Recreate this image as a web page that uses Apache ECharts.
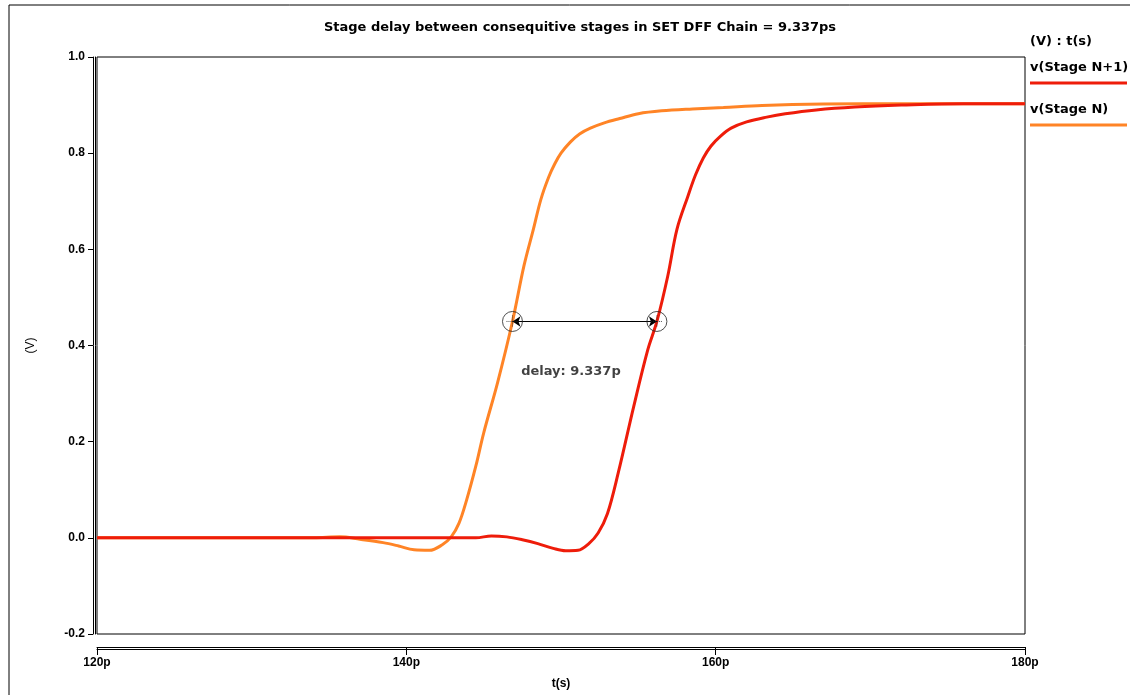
<!DOCTYPE html>
<html>
<head>
<meta charset="utf-8">
<script src="https://cdn.jsdelivr.net/npm/echarts@6/dist/echarts.min.js"></script>
<style>
  html, body { margin: 0; padding: 0; background: #fff; }
  #chart { width: 1130px; height: 695px; }
</style>
</head>
<body>
<div id="chart"></div>
<script>
// t in ps, v in volts
let tStageN  = [120, 130, 134, 135.7, 137, 138.5, 139.5, 140.5, 141.5, 142.3, 142.9, 143.4, 143.9, 144.5, 145.0, 145.9,
  146.863, 147.6, 148.2, 148.7, 149.2, 149.6, 150.0, 150.6, 151.2, 151.9, 152.8, 153.8, 155, 156.5, 158.5, 160.5, 163, 167, 172, 180];
let vStageN  = [0, 0, 0, 0.002, -0.003, -0.01, -0.017, -0.025, -0.026, -0.015, 0.002, 0.03, 0.079, 0.15, 0.218, 0.323,
  0.45, 0.565, 0.64, 0.704, 0.75, 0.778, 0.8, 0.823, 0.84, 0.852, 0.863, 0.872, 0.882, 0.888, 0.892, 0.895, 0.899, 0.902, 0.903, 0.903];
let tStageN1 = [120, 144.5, 145.5, 146.5, 147.5, 148.5, 149.5, 150.3, 151.1, 151.8, 152.4, 153.0, 153.7, 154.7, 155.6,
  156.2, 156.9, 157.5, 158.2, 158.7, 159.2, 159.7, 160.3, 161.0, 162.0, 163.3, 164.5, 166.5, 169, 172, 176, 180];
let vStageN1 = [0, 0, 0.004, 0.002, -0.004, -0.012, -0.022, -0.027, -0.026, -0.012, 0.01, 0.05, 0.135, 0.273, 0.39,
  0.45, 0.544, 0.642, 0.71, 0.755, 0.79, 0.815, 0.835, 0.852, 0.865, 0.875, 0.882, 0.89, 0.896, 0.9, 0.903, 0.903];
let delayPts = [[146.863, 0.45], [156.2, 0.45]];   // measurement points
let delayLabel = [147.1, 0.345, 'delay: 9.337p'];
let titleText = 'Stage delay between consequitive stages in SET DFF Chain = 9.337ps';

let colRed = '#ee1c0a';
let colOrange = '#ff8426';
let tickFont = {color: '#000', fontSize: 12, fontWeight: 'bold', fontFamily: '"Liberation Sans Narrow", "Liberation Sans", Arial'};
let wideFont = '"DejaVu Sans", "Liberation Sans", Arial';

function pairs(t, v){
  return t.map((x, i) => [x, v[i]]);
}

var myChart = echarts.init(document.getElementById('chart'));
var option = {
  animation: false,
  backgroundColor: '#fff',
  title: {
    text: titleText,
    left: 575, top: 16, textAlign: 'center',
    textStyle: {fontSize: 13, fontWeight: 'bold', fontFamily: wideFont, color: '#000'}
  },
  grid: {
    left: 97, right: 105, top: 57, bottom: 58,
    show: true, borderColor: '#000', borderWidth: 1, backgroundColor: 'transparent'
  },
  xAxis: [{
    type: 'value', min: 120, max: 180, interval: 20,
    position: 'bottom', offset: 13,
    axisLine: {show: true, onZero: false, lineStyle: {color: '#000', width: 1}},
    axisTick: {show: true, inside: false, length: 8, lineStyle: {color: '#000'}},
    axisLabel: Object.assign({margin: 10, formatter: v => v + 'p'}, tickFont),
    splitLine: {show: false},
    name: 't(s)', nameLocation: 'middle', nameGap: 31,
    nameTextStyle: tickFont
  }, {
    type: 'value', min: 120, max: 180, position: 'bottom', offset: 15,
    axisLine: {show: true, onZero: false, lineStyle: {color: '#000', width: 1}},
    axisTick: {show: false}, axisLabel: {show: false}, splitLine: {show: false}
  }],
  yAxis: [{
    type: 'value', min: -0.2, max: 1.0, interval: 0.2,
    position: 'left', offset: 4,
    axisLine: {show: true, onZero: false, lineStyle: {color: '#000', width: 1}},
    axisTick: {show: true, length: 5, lineStyle: {color: '#000'}},
    axisLabel: Object.assign({margin: 8, formatter: v => v.toFixed(1)}, tickFont),
    splitLine: {show: false},
    name: '(V)', nameLocation: 'middle', nameGap: 56, nameRotate: 90,
    nameTextStyle: {color: '#000', fontSize: 12, fontFamily: '"Liberation Sans", Arial'}
  }, {
    type: 'value', min: -0.2, max: 1.0, position: 'left', offset: 2,
    axisLine: {show: true, onZero: false, lineStyle: {color: '#000', width: 1}},
    axisTick: {show: false}, axisLabel: {show: false}, splitLine: {show: false}
  }],
  series: [{
    name: 'v(Stage N)', type: 'line', data: pairs(tStageN, vStageN),
    showSymbol: false, smooth: 0.35, lineStyle: {color: colOrange, width: 3}, z: 2
  }, {
    name: 'v(Stage N+1)', type: 'line', data: pairs(tStageN1, vStageN1),
    showSymbol: false, smooth: 0.35, lineStyle: {color: colRed, width: 3}, z: 3,
    markLine: {
      silent: true, symbol: ['arrow', 'arrow'], symbolSize: 8,
      label: {show: false},
      lineStyle: {color: '#000', width: 1, type: 'solid'},
      data: [[{coord: delayPts[0]}, {coord: delayPts[1]}]]
    }
  }, {
    name: 'marks', type: 'scatter', data: delayPts, symbol: 'circle', symbolSize: 20,
    itemStyle: {color: 'rgba(0,0,0,0)', borderColor: '#222', borderWidth: 1}, z: 5, silent: true
  }, {
    name: 'cross', type: 'scatter', data: delayPts, symbol: 'path://M5,0L5,10M0,5L10,5', symbolSize: 12,
    itemStyle: {color: 'rgba(0,0,0,0)', borderColor: '#222', borderWidth: 1, borderType: 'dotted'}, z: 5, silent: true
  }, {
    name: 'delayText', type: 'scatter', data: [delayLabel], symbolSize: 0, silent: true,
    label: {show: true, position: 'right', formatter: p => p.data[2],
      color: '#111', fontSize: 13, fontWeight: 'bold', fontFamily: wideFont}
  }],
  graphic: [
    // outer frame
    {type: 'line', shape: {x1: 9, y1: 5, x2: 1130, y2: 5}, style: {stroke: '#000', lineWidth: 1}},
    {type: 'line', shape: {x1: 9, y1: 5, x2: 9, y2: 695}, style: {stroke: '#000', lineWidth: 1}},
    // legend
    {type: 'text', left: 1030, top: 35, style: {text: '(V) : t(s)', fill: '#000', font: 'bold 13px ' + wideFont}},
    {type: 'text', left: 1030, top: 61, style: {text: 'v(Stage N+1)', fill: '#000', font: 'bold 13px ' + wideFont}},
    {type: 'line', shape: {x1: 1030, y1: 83, x2: 1127, y2: 83}, style: {stroke: colRed, lineWidth: 3}},
    {type: 'text', left: 1030, top: 103, style: {text: 'v(Stage N)', fill: '#000', font: 'bold 13px ' + wideFont}},
    {type: 'line', shape: {x1: 1030, y1: 125, x2: 1127, y2: 125}, style: {stroke: colOrange, lineWidth: 3}}
  ]
};
myChart.setOption(option);
</script>
</body>
</html>
